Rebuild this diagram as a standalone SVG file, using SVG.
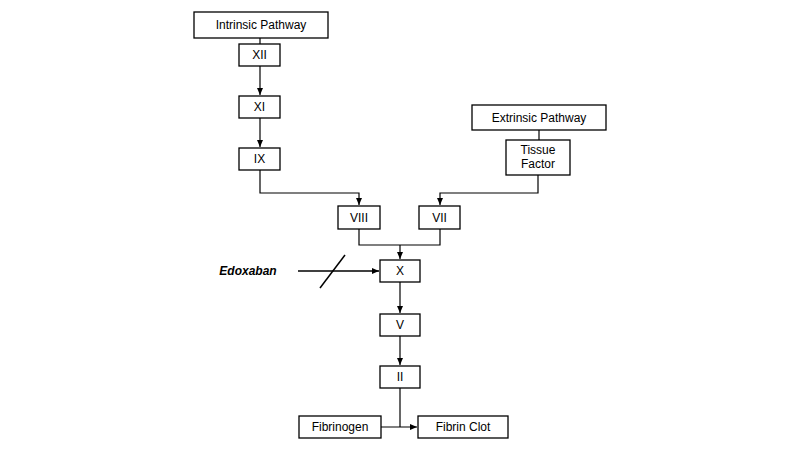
<svg xmlns="http://www.w3.org/2000/svg" width="800" height="450" viewBox="0 0 800 450">
<style>
.b{fill:#fff;stroke:#000;stroke-width:1.3}
.t{font-family:"Liberation Sans",Arial,sans-serif;font-size:12px;text-anchor:middle;fill:#000}
.c{fill:none;stroke:#000;stroke-width:1.2}
</style>
<defs><marker id="a" markerWidth="8" markerHeight="8" refX="7" refY="4" orient="auto" markerUnits="userSpaceOnUse"><path d="M0,1 L7,4 L0,7 Z" fill="#000"/></marker></defs>
<rect width="800" height="450" fill="#fff"/>
<g id="intrinsic"><rect class="b" x="194" y="12" width="134" height="26"/><text class="t" x="261" y="29">Intrinsic Pathway</text></g>
<g id="xii"><rect class="b" x="239" y="44" width="41" height="22"/><text class="t" x="259.5" y="59">XII</text></g>
<g id="xi"><rect class="b" x="239" y="96" width="41" height="22"/><text class="t" x="259.5" y="111">XI</text></g>
<g id="ix"><rect class="b" x="239" y="148" width="41" height="22"/><text class="t" x="259.5" y="163">IX</text></g>
<g id="extrinsic"><rect class="b" x="472" y="105" width="134" height="25"/><text class="t" x="539" y="122">Extrinsic Pathway</text></g>
<g id="tf"><rect class="b" x="506" y="140" width="64" height="35"/><text class="t" x="538" y="154">Tissue</text><text class="t" x="538" y="168">Factor</text></g>
<g id="viii"><rect class="b" x="338" y="206" width="42" height="23"/><text class="t" x="359" y="222">VIII</text></g>
<g id="vii"><rect class="b" x="419" y="206" width="41" height="23"/><text class="t" x="439.5" y="222">VII</text></g>
<g id="x"><rect class="b" x="380" y="260" width="40" height="22"/><text class="t" x="400" y="275">X</text></g>
<g id="v"><rect class="b" x="380" y="314" width="40" height="22"/><text class="t" x="400" y="329">V</text></g>
<g id="ii"><rect class="b" x="380" y="366" width="40" height="22"/><text class="t" x="400" y="381">II</text></g>
<g id="fibrinogen"><rect class="b" x="299" y="416" width="82" height="22"/><text class="t" x="340" y="431">Fibrinogen</text></g>
<g id="clot"><rect class="b" x="418" y="416" width="90" height="22"/><text class="t" x="463" y="431">Fibrin Clot</text></g>
<g id="edoxaban"><text class="t" x="248" y="275" style="font-weight:bold;font-style:italic">Edoxaban</text></g>
<g id="connectors">
<path class="c" d="M260,38 V44"/>
<path class="c" d="M260,66 V95" marker-end="url(#a)"/>
<path class="c" d="M260,118 V147" marker-end="url(#a)"/>
<path class="c" d="M539,130 V140"/>
<path class="c" d="M260,170 V193 H359 V205" marker-end="url(#a)"/>
<path class="c" d="M538,175 V193 H440 V205" marker-end="url(#a)"/>
<path class="c" d="M359,229 V245 H440 V229"/>
<path class="c" d="M400,245 V259" marker-end="url(#a)"/>
<path class="c" d="M400,282 V313" marker-end="url(#a)"/>
<path class="c" d="M400,336 V365" marker-end="url(#a)"/>
<path class="c" d="M400,388 V427"/>
<path class="c" d="M381,427 H417" marker-end="url(#a)"/>
<path class="c" d="M298,271 H379" marker-end="url(#a)" style="stroke-width:1.5"/>
<path class="c" d="M320,288 L345,255" style="stroke-width:1.5"/>
</g>
</svg>
